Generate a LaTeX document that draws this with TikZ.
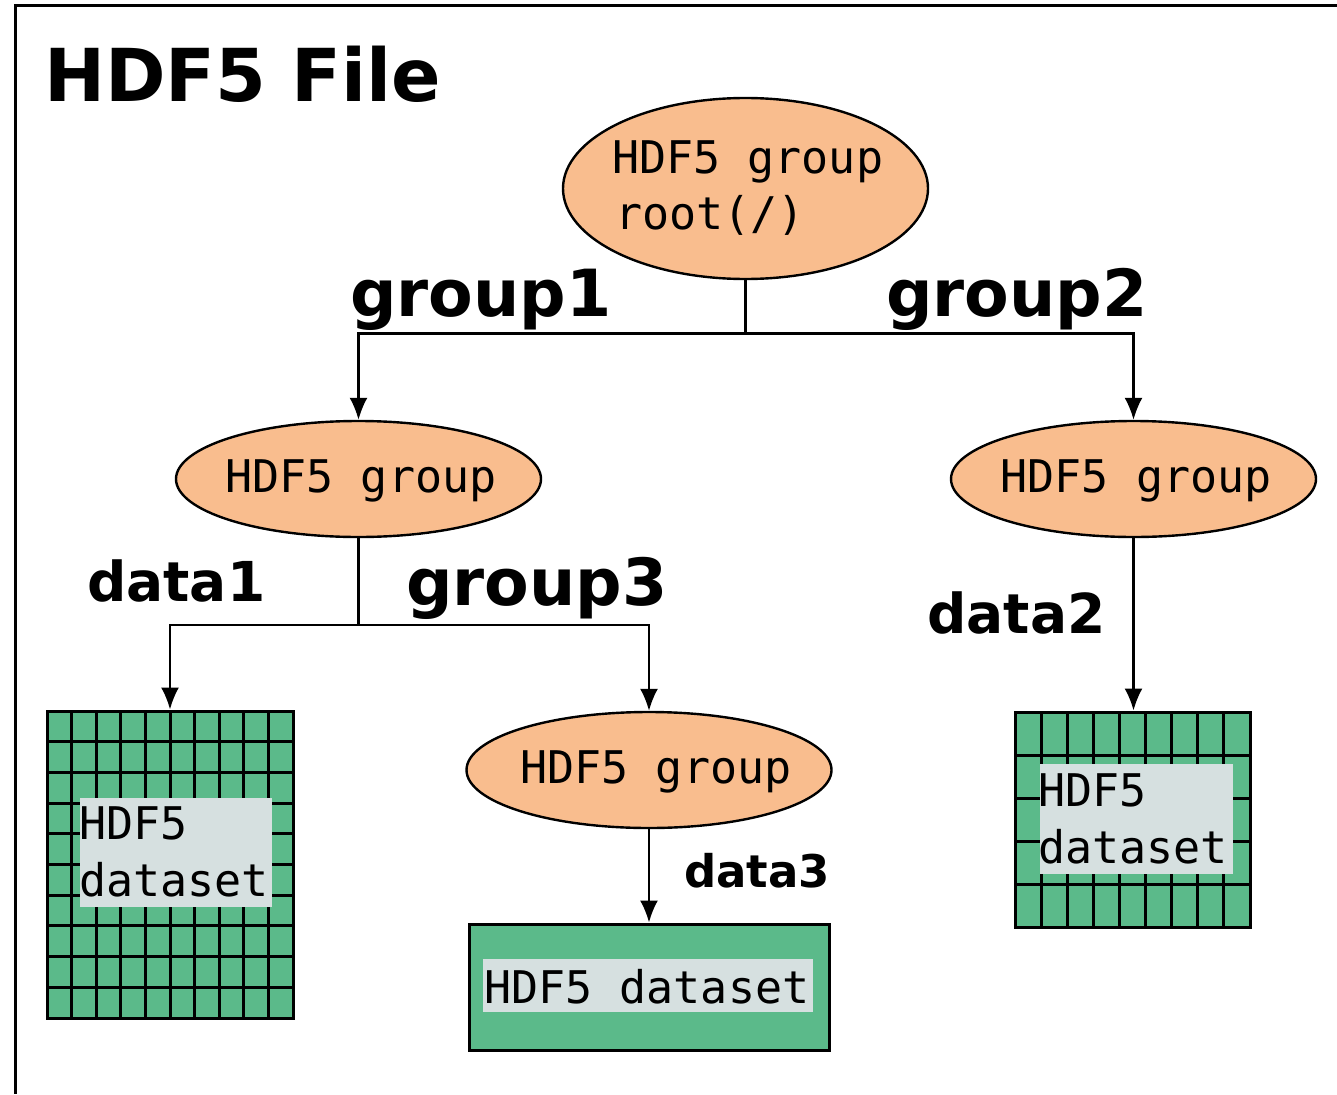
\documentclass[tikz,border=0pt]{standalone}
\usepackage{fontspec}
\setmainfont{DejaVu Sans}
\newfontfamily\codefont{DejaVu Sans Mono}
\usetikzlibrary{shapes.geometric,arrows.meta}

\definecolor{peach}{HTML}{F9BD8E}
\definecolor{cellgreen}{HTML}{5BBA8A}
\definecolor{tagbg}{HTML}{D6E0E0}

\begin{document}
\begin{tikzpicture}[x=1pt,y=-1pt,
  grp/.style={ellipse,draw=black,line width=2.4pt,fill=peach,inner sep=0pt,
              minimum width=365pt,minimum height=116pt},
  codetxt/.style={font=\fontsize{45}{54}\selectfont\codefont,inner sep=0pt,anchor=base west},
  grptxt/.style={font=\fontsize{45}{54}\selectfont\codefont,inner sep=0pt},
  tag/.style={fill=tagbg,inner sep=0pt,anchor=north west},
  dsbox/.style={draw=black,line width=3pt,fill=cellgreen,inner sep=0pt},
  cellline/.style={line width=3pt},
  lbl/.style={font=\fontsize{#1}{#1}\selectfont\bfseries,inner sep=0pt,anchor=base west},
  wire/.style={line width=2.2pt},
  link/.style={line width=2.2pt,-{Latex[length=22pt,width=18pt]}}]

\useasboundingbox (0,0) rectangle (1337,1094);

% outer frame of the file
\coordinate (frameTR) at (1337,6);
\coordinate (frameTL) at (15,6);
\coordinate (frameBL) at (15,1094);
\draw[line width=3pt] (frameTR) -- (frameTL) -- (frameBL);

\node[lbl=73] (title) at (44,102) {HDF5 File};

% groups
\node[grp,minimum height=181pt] (root) at (745.5,188.5) {};
\node[codetxt] (roottxtA) at (612,174) {HDF5 group};
\node[codetxt] (roottxtB) at (615,229) {root(/)};

\node[grp] (g1) at (358.5,479) {};
\node[grptxt] (g1txt) at (361,481) {HDF5 group};
\node[grp] (g2) at (1133.5,479) {};
\node[grptxt] (g2txt) at (1136,481) {HDF5 group};
\node[grp] (g3) at (649,770) {};
\node[grptxt] (g3txt) at (656,772) {HDF5 group};

% dataset 1: 10 x 10 cells
\node[dsbox,minimum width=246pt,minimum height=307pt] (ds1) at (170,864.5) {};
\foreach \i in {1,...,9} {
  \draw[cellline] ({47+\i*24.6},711) -- ({47+\i*24.6},1018);
  \draw[cellline] (47,{711+\i*30.7}) -- (293,{711+\i*30.7});
}
\node[tag,minimum width=192pt,minimum height=109pt] (ds1tag) at (80,798) {};
\node[codetxt] (ds1txtA) at (79,839) {HDF5};
\node[codetxt] (ds1txtB) at (79,896) {dataset};

% dataset 2: 9 x 5 cells
\node[dsbox,minimum width=235pt,minimum height=215pt] (ds2) at (1132.5,819.5) {};
\foreach \i in {1,...,8}
  \draw[cellline] ({1015+\i*26.11},712) -- ({1015+\i*26.11},927);
\foreach \i in {1,...,4}
  \draw[cellline] (1015,{712+\i*43}) -- (1250,{712+\i*43});
\node[tag,minimum width=193pt,minimum height=110pt] (ds2tag) at (1040,764) {};
\node[codetxt] (ds2txtA) at (1038,806) {HDF5};
\node[codetxt] (ds2txtB) at (1038,863) {dataset};

% dataset 3: plain block
\node[dsbox,minimum width=360pt,minimum height=126pt] (ds3) at (649,987) {};
\node[tag,minimum width=330pt,minimum height=53pt] (ds3tag) at (483,959) {};
\node[codetxt] (ds3txt) at (484,1003) {HDF5 dataset};

% links
\coordinate (j1) at (745.5,333.5);
\coordinate (j2) at (358.5,625);
\draw[wire] (root.south) -- (j1);
\draw[link] (j1) -| (g1.north);
\draw[link] (j1) -| (g2.north);
\draw[wire] (g1.south) -- (j2);
\draw[link] (j2) -| (ds1.north);
\draw[link] (j2) -| (g3.north);
\draw[link] (g2.south) -- (g2.south |- ds2.north);
\draw[link] (g3.south) -- (g3.south |- ds3.north);

% link names
\node[lbl=65] (l1) at (350,316) {group1};
\node[lbl=65] (l2) at (886,316) {group2};
\node[lbl=55] (l3) at (87,601) {data1};
\node[lbl=65] (l4) at (406,605) {group3};
\node[lbl=55] (l5) at (927,633) {data2};
\node[lbl=45] (l6) at (684,887) {data3};
\end{tikzpicture}
\end{document}
